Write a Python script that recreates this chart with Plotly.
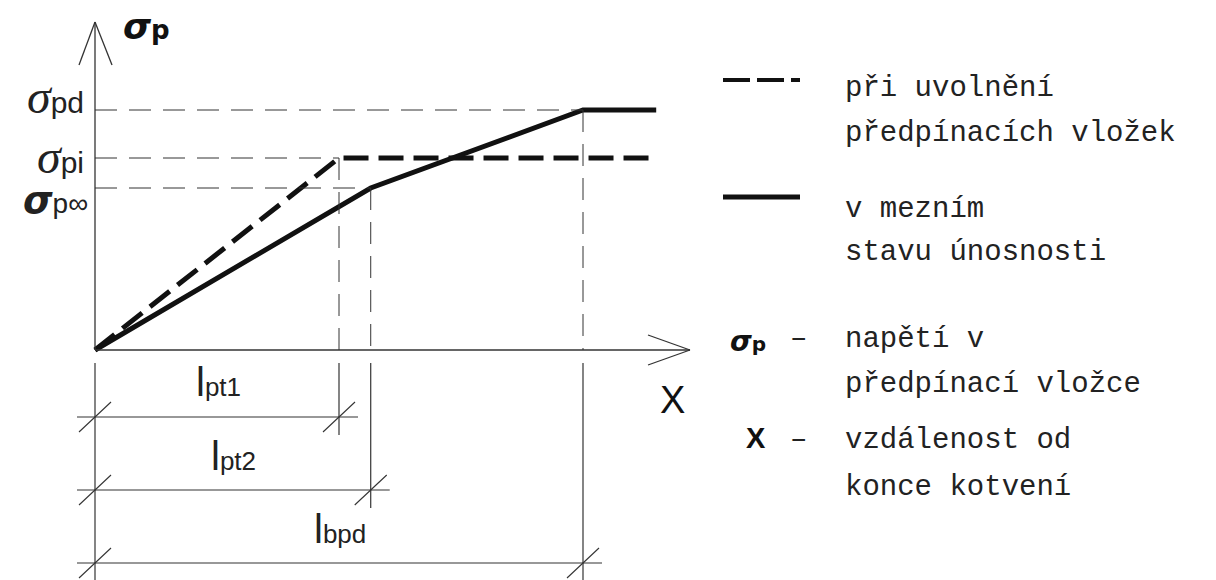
import plotly.graph_objects as go

# Characteristic lengths along the tendon, measured from the anchorage end
length_names = ["lpt1", "lpt2", "lbpd"]
length_values = [50.0, 56.5, 100.0]
x_end = 115.0

# Stress levels in the prestressing tendon
stress_names = ["σpd", "σpi", "σp∞"]
stress_values = [100.0, 80.0, 67.5]

l_pt1, l_pt2, l_bpd = length_values
s_pd, s_pi, s_pinf = stress_values

# Stress development curves
release_x = [0.0, l_pt1, x_end]
release_y = [0.0, s_pi, s_pi]
uls_x = [0.0, l_pt2, l_bpd, x_end]
uls_y = [0.0, s_pinf, s_pd, s_pd]

# Drawing scale: where the origin sits on the page and pixels per unit
W, H = 1216, 580
OX, OY = 95, 350
KX, KY = 4.88, 2.4


def px(p):
    return (p - OX) / KX


def py(p):
    return (OY - p) / KY


def dx(d):
    return d / KX


def dy(d):
    return -d / KY


INK = "#111111"
THIN = "#333333"
TEXT_FONT = "Liberation Mono"
LABEL_FONT = "Liberation Sans"

fig = go.Figure()

fig.add_trace(go.Scatter(x=release_x, y=release_y, mode="lines",
                         line=dict(color=INK, width=5, dash="25px,10px"),
                         hoverinfo="skip", showlegend=False))
fig.add_trace(go.Scatter(x=uls_x, y=uls_y, mode="lines",
                         line=dict(color=INK, width=5),
                         hoverinfo="skip", showlegend=False))

shapes = []


def seg(x0, y0, x1, y1, width=1.2, color=THIN, dash=None):
    line = dict(color=color, width=width)
    if dash:
        line["dash"] = dash
    shapes.append(dict(type="line", xref="x", yref="y",
                       x0=x0, y0=y0, x1=x1, y1=y1, line=line))


# Axes with open arrowheads
seg(0, 0, 0, py(22), width=1.3)
seg(0, py(22), dx(-16), py(65), width=1.3)
seg(0, py(22), dx(17), py(65), width=1.3)
seg(0, 0, px(690), 0, width=1.3)
seg(px(690), 0, px(648), dy(-15), width=1.3)
seg(px(690), 0, px(648), dy(15), width=1.3)

# Thin dashed projection lines
ref_dash = "22px,12px"
seg(0, s_pd, l_bpd, s_pd, width=1, dash=ref_dash)
seg(0, s_pi, l_pt1, s_pi, width=1, dash=ref_dash)
seg(0, s_pinf, l_pt2, s_pinf, width=1, dash=ref_dash)
seg(l_pt1, s_pi, l_pt1, 0, width=1, dash=ref_dash)
seg(l_pt2, s_pinf, l_pt2, 0, width=1, dash=ref_dash)
seg(l_bpd, s_pd, l_bpd, 0, width=1, dash=ref_dash)

# Extension lines below the axis
seg(0, py(363), 0, py(580))
seg(l_pt1, py(363), l_pt1, py(435))
seg(l_pt2, py(363), l_pt2, py(508))
seg(l_bpd, py(363), l_bpd, py(580))

# Dimension lines with oblique ticks
dims = [(l_pt1, 417), (l_pt2, 490), (l_bpd, 563)]
for length, ypix in dims:
    y = py(ypix)
    seg(dx(-18), y, length + dx(19), y)
    for xx in (0.0, length):
        seg(xx + dx(-16), y + dy(15), xx + dx(16), y + dy(-15), width=1.1)

# Legend samples
leg_y1 = py(80)
shapes.append(dict(type="line", xref="x", yref="y", x0=px(723), x1=px(800),
                   y0=leg_y1, y1=leg_y1,
                   line=dict(color=INK, width=4, dash="27px,7px")))
leg_y2 = py(197)
shapes.append(dict(type="line", xref="x", yref="y", x0=px(723), x1=px(800),
                   y0=leg_y2, y1=leg_y2, line=dict(color=INK, width=5)))

annotations = []


def label(text, xpix, ypix, size, family=TEXT_FONT, xanchor="left",
          yanchor="middle", weight="normal", color="#222222"):
    annotations.append(dict(
        text=text, x=px(xpix), y=py(ypix), xref="x", yref="y",
        showarrow=False, xanchor=xanchor, yanchor=yanchor,
        font=dict(family=family, size=size, color=color, weight=weight)))


# Legend text
legend_lines = [
    ("při uvolnění", 88),
    ("předpínacích vložek", 133),
    ("v mezním", 209),
    ("stavu únosnosti", 252),
    ("napětí v", 339),
    ("předpínací vložce", 384),
    ("vzdálenost od", 440),
    ("konce kotvení", 487),
]
for txt, ypix in legend_lines:
    label(txt, 843, ypix, 29)

label("–", 788, 339, 29)
label("–", 788, 440, 29)

sig_bold = ("<span style='font-family:DejaVu Sans;font-weight:bold;"
            "font-style:italic;font-size:%dpx'>σ</span>")
sig_thin = ("<span style='font-family:Liberation Serif;font-style:italic;"
            "font-size:%dpx'>σ</span>")

label(sig_bold % 28 + "<b>p</b>", 768, 341, 20, family="DejaVu Sans",
      xanchor="right", color=INK)
label("<b>X</b>", 768, 438, 29, family="Liberation Sans", xanchor="right",
      color=INK)

# Axis titles
label(sig_bold % 36 + "<b>p</b>", 121, 26, 26, family="DejaVu Sans",
      color=INK)
label("X", 672, 400, 38, family="Liberation Sans", xanchor="center",
      color=INK)

# Stress level labels on the vertical axis
label(sig_thin % 48 + "pd", 86, 96, 30, family=LABEL_FONT, xanchor="right")
label(sig_thin % 48 + "pi", 86, 156, 30, family=LABEL_FONT, xanchor="right")
label(sig_bold % 38 + "p∞", 90, 200, 28, family=LABEL_FONT, xanchor="right")

# Length labels above dimension lines
l_span = "<span style='font-size:40px'>l</span>"
label(l_span + "pt1", 218, 382, 26, family=LABEL_FONT, xanchor="center")
label(l_span + "pt2", 233, 456, 26, family=LABEL_FONT, xanchor="center")
label(l_span + "bpd", 340, 529, 26, family=LABEL_FONT, xanchor="center")

fig.update_layout(
    width=W, height=H,
    margin=dict(l=0, r=0, t=0, b=0),
    paper_bgcolor="white", plot_bgcolor="white",
    xaxis=dict(range=[px(0), px(W)], visible=False, fixedrange=True),
    yaxis=dict(range=[py(H), py(0)], visible=False, fixedrange=True),
    shapes=shapes, annotations=annotations,
    showlegend=False,
)

fig.write_html("out.html")
